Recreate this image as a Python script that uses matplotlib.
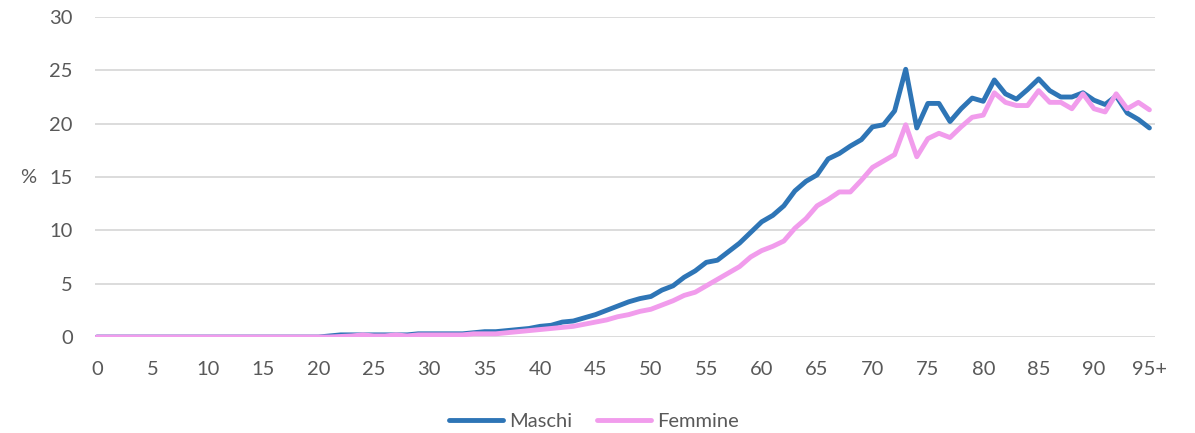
import numpy as np
import matplotlib.pyplot as plt

plt.rcParams['font.family'] = ['Lato', 'DejaVu Sans']

ages = list(range(96))
tick_pos = list(range(0, 96, 5))
tick_labels = [str(a) for a in range(0, 95, 5)] + ['95+']

maschi = [0.0] * 21 + [
    0.1, 0.2, 0.2, 0.2, 0.2, 0.2, 0.2, 0.2, 0.3,          # 21-29
    0.3, 0.3, 0.3, 0.3, 0.4, 0.5, 0.5, 0.6, 0.7, 0.8,     # 30-39
    1.0, 1.1, 1.4, 1.5, 1.8, 2.1, 2.5, 2.9, 3.3, 3.6,     # 40-49
    3.8, 4.4, 4.8, 5.6, 6.2, 7.0, 7.2, 8.0, 8.8, 9.8,     # 50-59
    10.8, 11.4, 12.3, 13.7, 14.6, 15.2, 16.7, 17.2, 17.9, 18.5,  # 60-69
    19.7, 19.9, 21.2, 25.1, 19.6, 21.9, 21.9, 20.2, 21.4, 22.4,  # 70-79
    22.1, 24.1, 22.8, 22.3, 23.2, 24.2, 23.1, 22.5, 22.5, 22.9,  # 80-89
    22.2, 21.8, 22.6, 21.0, 20.4, 19.6,                          # 90-95
]

femmine = [0.0] * 22 + [
    0.05, 0.1, 0.2, 0.1, 0.1, 0.2, 0.1, 0.2,              # 22-29
    0.2, 0.2, 0.2, 0.2, 0.3, 0.3, 0.3, 0.4, 0.5, 0.6,     # 30-39
    0.7, 0.8, 0.9, 1.0, 1.2, 1.4, 1.6, 1.9, 2.1, 2.4,     # 40-49
    2.6, 3.0, 3.4, 3.9, 4.2, 4.8, 5.4, 6.0, 6.6, 7.5,     # 50-59
    8.1, 8.5, 9.0, 10.2, 11.1, 12.3, 12.9, 13.6, 13.6, 14.7,     # 60-69
    15.9, 16.5, 17.1, 19.9, 16.9, 18.6, 19.1, 18.7, 19.7, 20.6,  # 70-79
    20.8, 22.9, 22.0, 21.7, 21.7, 23.1, 22.0, 22.0, 21.4, 22.8,  # 80-89
    21.4, 21.1, 22.8, 21.4, 22.0, 21.3,                          # 90-95
]

fig = plt.figure(figsize=(11.95, 4.33), dpi=100)
ax = fig.add_axes([0.0795, 0.2217, 0.887, 0.739])

ax.plot(ages, maschi, color='#2E75B6', lw=3.5, label='Maschi', solid_capstyle='round', zorder=2)
ax.plot(ages, femmine, color='#F19CEC', lw=3.5, label='Femmine', solid_capstyle='round', zorder=3)

ax.set_xlim(-0.18, 95.5)
ax.set_ylim(0, 30)
ax.set_yticks(range(0, 31, 5))
ax.set_xticks(tick_pos)
ax.set_xticklabels(tick_labels)
ax.grid(axis='y', color='#d9d9d9', lw=1.3)
ax.set_axisbelow(True)
for s in ax.spines.values():
    s.set_visible(False)
ax.tick_params(length=0, labelsize=14.5, colors='#595959')
ax.tick_params(axis='y', pad=16)
ax.tick_params(axis='x', pad=17)
ax.set_ylabel('%', rotation=0, fontsize=14.5, color='#595959', va='center', ha='center')
ax.yaxis.set_label_coords(-0.063, 0.5)

fig.legend(loc='lower center', bbox_to_anchor=(0.497, -0.035), ncol=2, frameon=False,
           fontsize=14.5, labelcolor='#595959', handlelength=2.7, handletextpad=0.3,
           columnspacing=1.2)

fig.savefig('out.png', dpi=100)
